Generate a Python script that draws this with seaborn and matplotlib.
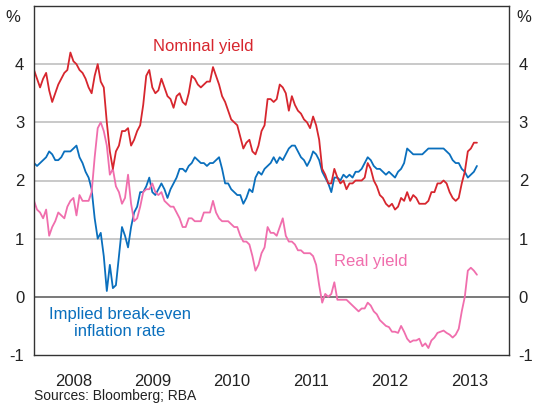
import matplotlib
matplotlib.use('Agg')
import matplotlib.pyplot as plt
import pandas as pd
import seaborn as sns

# fortnightly observations, Jan 2008 - Aug 2013
dates = pd.date_range('2008-01-01', periods=147, freq='14D')

nominal = [3.9, 3.75, 3.6, 3.75, 3.85, 3.55, 3.35, 3.5, 3.65, 3.75,
           3.85, 3.9, 4.2, 4.05, 4.0, 3.9, 3.85, 3.75, 3.6, 3.5,
           3.8, 4.0, 3.7, 3.6, 3.0, 2.5, 2.2, 2.5, 2.6, 2.85,
           2.85, 2.9, 2.6, 2.7, 2.85, 2.95, 3.3, 3.8, 3.9, 3.6,
           3.5, 3.55, 3.75, 3.6, 3.45, 3.4, 3.25, 3.45, 3.5, 3.35,
           3.3, 3.5, 3.8, 3.75, 3.65, 3.6, 3.65, 3.7, 3.7, 3.95,
           3.8, 3.65, 3.45, 3.35, 3.2, 3.05, 3.0, 2.95, 2.75, 2.55,
           2.65, 2.7, 2.5, 2.45, 2.6, 2.85, 2.95, 3.4, 3.4, 3.35,
           3.4, 3.65, 3.6, 3.5, 3.2, 3.45, 3.3, 3.2, 3.15, 3.05,
           3.0, 2.9, 3.1, 2.95, 2.7, 2.2, 2.1, 1.95, 1.95, 2.2,
           2.05, 1.95, 2.0, 1.85, 1.95, 1.95, 2.0, 2.0, 2.0, 2.05,
           2.3, 2.2, 2.0, 1.9, 1.75, 1.7, 1.6, 1.55, 1.6, 1.5,
           1.55, 1.7, 1.65, 1.8, 1.65, 1.75, 1.7, 1.6, 1.6, 1.6,
           1.65, 1.8, 1.8, 1.95, 1.95, 2.0, 1.95, 1.8, 1.7, 1.65,
           1.7, 1.95, 2.15, 2.5, 2.55, 2.65, 2.65]

breakeven = [2.3, 2.25, 2.3, 2.35, 2.4, 2.5, 2.45, 2.35, 2.35, 2.4,
             2.5, 2.5, 2.5, 2.55, 2.6, 2.4, 2.3, 2.15, 2.05, 1.85,
             1.35, 1.0, 1.1, 0.7, 0.1, 0.55, 0.15, 0.2, 0.7, 1.2,
             1.05, 0.85, 1.2, 1.45, 1.55, 1.8, 1.8, 1.9, 2.05, 1.8,
             1.75, 1.85, 1.95, 1.85, 1.7, 1.85, 1.95, 2.05, 2.2, 2.2,
             2.15, 2.25, 2.3, 2.4, 2.35, 2.3, 2.3, 2.25, 2.3, 2.3,
             2.35, 2.4, 2.2, 1.95, 1.95, 1.85, 1.8, 1.75, 1.75, 1.6,
             1.7, 1.85, 1.8, 2.05, 2.15, 2.1, 2.2, 2.25, 2.3, 2.4,
             2.3, 2.4, 2.35, 2.45, 2.55, 2.6, 2.6, 2.5, 2.4, 2.35,
             2.25, 2.35, 2.5, 2.45, 2.35, 2.15, 2.05, 1.95, 1.8, 2.05,
             2.05, 2.0, 2.1, 2.05, 2.1, 2.05, 2.15, 2.15, 2.2, 2.3,
             2.4, 2.35, 2.25, 2.2, 2.2, 2.15, 2.1, 2.15, 2.1, 2.05,
             2.15, 2.2, 2.3, 2.55, 2.5, 2.45, 2.45, 2.45, 2.45, 2.5,
             2.55, 2.55, 2.55, 2.55, 2.55, 2.55, 2.5, 2.45, 2.35, 2.3,
             2.3, 2.2, 2.15, 2.05, 2.1, 2.15, 2.25]

real = [1.65, 1.5, 1.45, 1.35, 1.5, 1.05, 1.2, 1.3, 1.45, 1.4,
        1.35, 1.55, 1.65, 1.7, 1.4, 1.75, 1.65, 1.65, 1.65, 1.8,
        2.4, 2.9, 3.0, 2.85, 2.6, 2.1, 2.2, 1.9, 1.8, 1.6,
        1.7, 2.1, 1.6, 1.3, 1.35, 1.55, 1.8, 1.85, 1.85, 1.95,
        1.8, 1.75, 1.8, 1.65, 1.6, 1.55, 1.55, 1.45, 1.35, 1.2,
        1.2, 1.35, 1.35, 1.3, 1.3, 1.3, 1.45, 1.45, 1.45, 1.65,
        1.45, 1.35, 1.3, 1.3, 1.3, 1.25, 1.2, 1.2, 1.05, 0.95,
        0.95, 0.9, 0.7, 0.45, 0.55, 0.75, 0.85, 1.2, 1.1, 1.1,
        1.05, 1.2, 1.35, 1.05, 0.95, 0.95, 0.9, 0.8, 0.8, 0.75,
        0.75, 0.75, 0.7, 0.55, 0.2, -0.1, 0.05, 0.0, 0.05, 0.25,
        -0.05, -0.05, -0.05, -0.05, -0.1, -0.15, -0.2, -0.25, -0.2, -0.2,
        -0.1, -0.15, -0.25, -0.3, -0.4, -0.45, -0.5, -0.52, -0.6, -0.6,
        -0.62, -0.5, -0.6, -0.72, -0.78, -0.75, -0.75, -0.72, -0.85, -0.8,
        -0.88, -0.75, -0.7, -0.62, -0.6, -0.58, -0.62, -0.65, -0.7, -0.65,
        -0.55, -0.25, 0.0, 0.45, 0.5, 0.45, 0.38]

years = [2008, 2009, 2010, 2011, 2012, 2013]
yticks = [-1, 0, 1, 2, 3, 4]

RED = '#d7262e'
BLUE = '#0a6fbd'
PINK = '#f06ead'

sns.set_style('white')
plt.rcParams['font.family'] = ['Liberation Sans', 'DejaVu Sans']
plt.rcParams['axes.unicode_minus'] = False

df = pd.DataFrame({'date': dates, 'Breakeven': breakeven, 'Real': real, 'Nominal': nominal})
long_df = df.melt(id_vars='date', var_name='series', value_name='yield')

fig = plt.figure(figsize=(5.37, 4.04), dpi=100)
ax = fig.add_axes([34 / 537, 49 / 404, 475 / 537, 349 / 404])

# gridlines behind the data
for t in yticks[1:]:
    ax.axhline(t, color='#555555' if t == 0 else '#bbbbbb', lw=1.1, zorder=0)

sns.lineplot(data=long_df, x='date', y='yield', hue='series',
             hue_order=['Breakeven', 'Real', 'Nominal'],
             palette=[BLUE, PINK, RED], linewidth=1.3, estimator=None,
             legend=False, ax=ax)

ax.set_ylim(-1, 5)
ax.set_xlim(pd.Timestamp('2008-01-01'), pd.Timestamp('2014-01-01'))
ax.set_xlabel('')
ax.set_ylabel('')

ax.set_yticks(yticks)
ax.set_yticklabels([str(t) for t in yticks])
ax.tick_params(axis='y', length=0, labelsize=12, pad=7, labelright=True, colors='#222222')

# year boundaries as tick marks, year names centred between them
ax.set_xticks([pd.Timestamp(f'{y}-01-01') for y in years[1:]])
ax.set_xticklabels([])
ax.set_xticks([pd.Timestamp(f'{y}-07-02') for y in years], minor=True)
ax.set_xticklabels([str(y) for y in years], minor=True)
ax.tick_params(axis='x', which='major', direction='in', length=6, width=1, color='#555555')
ax.tick_params(axis='x', which='minor', length=0, labelsize=12, pad=14, colors='#222222')

for s in ax.spines.values():
    s.set_color('#333333')
    s.set_linewidth(1.0)

ax.text(-0.03, 0.966, '%', transform=ax.transAxes, ha='right', va='center', fontsize=12, color='#222222')
ax.text(1.015, 0.966, '%', transform=ax.transAxes, ha='left', va='center', fontsize=12, color='#222222')

ax.text(pd.Timestamp('2010-02-20'), 4.3, 'Nominal yield', color=RED, fontsize=12, ha='center', va='center')
ax.text(pd.Timestamp('2012-04-01'), 0.6, 'Real yield', color=PINK, fontsize=12, ha='center', va='center')
ax.text(pd.Timestamp('2009-02-01'), -0.45, 'Implied break-even\ninflation rate', color=BLUE,
        fontsize=12, ha='center', va='center', linespacing=1.2)

fig.text(34 / 537, 1 - 396 / 404, 'Sources: Bloomberg; RBA', fontsize=10, ha='left', va='center', color='#222222')

fig.savefig('out.png', dpi=100)
